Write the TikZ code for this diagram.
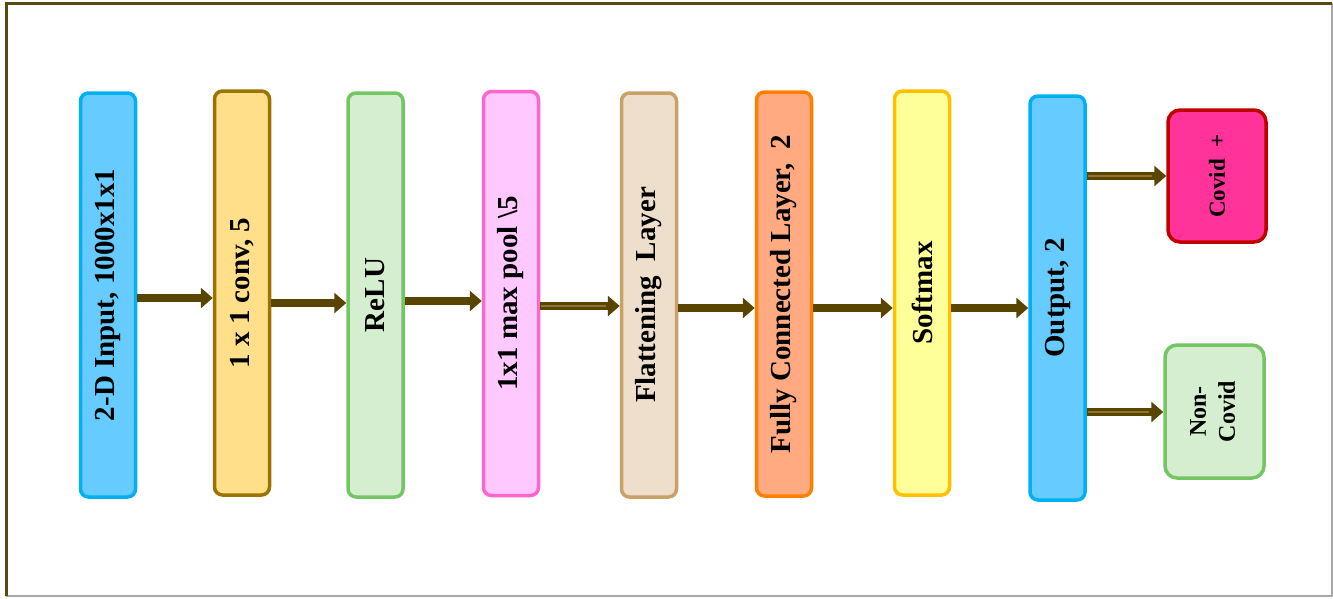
\documentclass[tikz,border=0pt]{standalone}
\usepackage{fontspec}
\setmainfont{Liberation Serif}
\usepackage{graphicx}
\usetikzlibrary{arrows.meta}
\definecolor{frameb}{HTML}{5A4A10}
\definecolor{frameg}{HTML}{A8A8A8}
\definecolor{arrc}{HTML}{5A4500}
\definecolor{arrin}{HTML}{8F7330}
\definecolor{bluef}{HTML}{66CCFF}
\definecolor{blued}{HTML}{00B0F0}
\definecolor{convf}{HTML}{FFDF8A}
\definecolor{convd}{HTML}{9A7300}
\definecolor{greenf}{HTML}{D5EED0}
\definecolor{greend}{HTML}{74C665}
\definecolor{poolf}{HTML}{FFC8FF}
\definecolor{poold}{HTML}{FF66CC}
\definecolor{flatf}{HTML}{EEDFCC}
\definecolor{flatd}{HTML}{C9A066}
\definecolor{fcf}{HTML}{FFAA80}
\definecolor{fcd}{HTML}{FF8000}
\definecolor{softf}{HTML}{FFFF99}
\definecolor{softd}{HTML}{FFC000}
\definecolor{covf}{HTML}{FF3399}
\definecolor{covd}{HTML}{C00000}
\begin{document}
\begin{tikzpicture}[x=1pt,y=-1pt,
  layer/.style={draw, rounded corners=8pt, line width=3.5pt, minimum width=55pt,
    minimum height=404pt, inner sep=0pt, font=\fontsize{29}{31}\selectfont\bfseries},
  outbox/.style={draw, rounded corners=12pt, line width=3.5pt, minimum width=98pt,
    minimum height=132pt, inner sep=0pt},
  arr/.style={line width=8.5pt, color=arrc, -{Triangle[length=12pt,width=20pt]}},
  innerline/.style={line width=1.6pt, color=arrin, shorten >=14pt, shorten <=1pt}]
\useasboundingbox (0,0) rectangle (1333,598);
\fill[white] (6,3) rectangle (1332,596);
\draw[frameg, line width=2pt] (6,596) -- (1332,596) -- (1332,3);
\draw[frameb, line width=3pt] (6,596) -- (6,3) -- (1332,3);

\node[layer, fill=bluef, draw=blued] (in) at (108,295) {\rotatebox{90}{2-D Input, 1000x1x1}};
\node[layer, fill=convf, draw=convd] (conv) at (242,293) {\rotatebox{90}{1 x 1 conv, 5}};
\node[layer, fill=greenf, draw=greend] (relu) at (375.5,295) {\rotatebox{90}{ReLU}};
\node[layer, fill=poolf, draw=poold] (pool) at (511,293.5) {\rotatebox{90}{1x1 max pool \textbackslash5}};
\node[layer, fill=flatf, draw=flatd] (flat) at (649,295) {\rotatebox{90}{Flattening\ \ Layer}};
\node[layer, fill=fcf, draw=fcd] (fc) at (784,294) {\rotatebox{90}{Fully Connected Layer,\ \ 2}};
\node[layer, fill=softf, draw=softd] (soft) at (922,293) {\rotatebox{90}{Softmax}};
\node[layer, fill=bluef, draw=blued] (out) at (1057.5,298) {\rotatebox{90}{Output, 2}};
\node[outbox, fill=covf, draw=covd, font=\fontsize{23}{26}\selectfont\bfseries] (cov) at (1217,176) {\rotatebox{90}{Covid\ \ +}};
\node[outbox, fill=greenf, draw=greend, minimum width=99pt, minimum height=133pt,
  font=\fontsize{24}{29}\selectfont\bfseries] (non) at (1214.5,411.5)
  {\rotatebox{90}{\begin{tabular}{@{}c@{}}Non-\\Covid\end{tabular}}};

\draw[arr] (in.east |- 0,298) -- (conv.west |- 0,298);
\draw[arr] (conv.east |- 0,303) -- (relu.west |- 0,303);
\draw[arr] (relu.east |- 0,301) -- (pool.west |- 0,301);
\draw[arr] (pool.east |- 0,306) -- (flat.west |- 0,306);
\draw[innerline] (pool.east |- 0,306) -- (flat.west |- 0,306);
\draw[arr] (flat.east |- 0,308) -- (fc.west |- 0,308);
\draw[arr] (fc.east |- 0,308) -- (soft.west |- 0,308);
\draw[arr] (soft.east |- 0,308) -- (out.west |- 0,308);
\draw[arr] (out.east |- 0,176) -- (cov.west |- 0,176);
\draw[innerline] (out.east |- 0,176) -- (cov.west |- 0,176);
\draw[arr] (out.east |- 0,412) -- (non.west |- 0,412);
\draw[innerline] (out.east |- 0,412) -- (non.west |- 0,412);
\end{tikzpicture}
\end{document}
